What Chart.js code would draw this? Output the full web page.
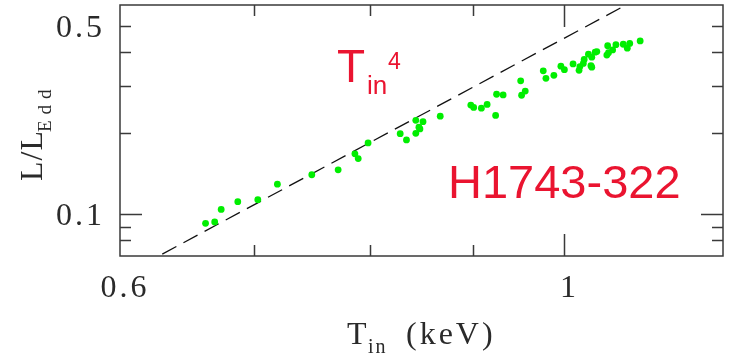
<!DOCTYPE html>
<html>
<head>
<meta charset="utf-8">
<script src="https://cdn.jsdelivr.net/npm/chart.js@4"></script>
<style>
  html, body { margin: 0; padding: 0; background: #fff; }
  #wrap { width: 732px; height: 356px; }
</style>
</head>
<body>
<div id="wrap"><canvas id="chart" width="732" height="356"></canvas></div>
<script>
        // inner disk temperature (keV) and luminosity in Eddington units
        const tIn = [0.662, 0.669, 0.674, 0.687, 0.703, 0.719, 0.748, 0.771, 0.786, 0.789,
                     0.798, 0.828, 0.834, 0.843, 0.850, 0.846, 0.847, 0.843, 0.867, 0.898,
                     0.901, 0.909, 0.915, 0.924, 0.925, 0.932, 0.951, 0.952, 0.956, 0.976,
                     0.979, 0.988, 0.996, 1.000, 1.010, 1.017, 1.018, 1.022, 1.023, 1.028,
                     1.031, 1.032, 1.032, 1.036, 1.038, 1.050, 1.051, 1.052, 1.057, 1.061,
                     1.070, 1.075, 1.078, 1.091];
        const lEdd = [0.0926, 0.0937, 0.1043, 0.1114, 0.1134, 0.1295, 0.1403, 0.1464, 0.1678, 0.1612,
                      0.1843, 0.1995, 0.1891, 0.2235, 0.2210, 0.2109, 0.2077, 0.2000, 0.2316, 0.2548,
                      0.2497, 0.2480, 0.2562, 0.2332, 0.2795, 0.2778, 0.3135, 0.2771, 0.2872, 0.3415,
                      0.3203, 0.3286, 0.3553, 0.3450, 0.3624, 0.3430, 0.3542, 0.3640, 0.3766, 0.3940,
                      0.3570, 0.3524, 0.3838, 0.4005, 0.4026, 0.3907, 0.4233, 0.3990, 0.4083, 0.4273,
                      0.4288, 0.4146, 0.4318, 0.4410];

        // L ~ T^4 reference line, end points
        const modelT = [0.6, 1.2];
        const modelL = [0.0586, 0.937];

        const xMinorTicks = [0.7, 0.8, 0.9];
        const xMajorTicks = [1];
        const yMinorTicks = [0.08, 0.09, 0.2, 0.3, 0.4, 0.5];
        const yMajorTicks = [0.1];
        const xLabelValues = [0.6, 1];
        const xLabelText = ['0.6', '1'];
        const yLabelValues = [0.1, 0.5];
        const yLabelText = ['0.1', '0.5'];

        const RED = '#ea1430';
        const INK = '#2a2a2a';
        const SERIF = '"Liberation Serif"';

        const framePlugin = {
            id: 'frame',
            afterDraw(chart) {
                const { ctx, chartArea: a, scales: { x, y } } = chart;
                ctx.save();

                ctx.strokeStyle = '#3a3a3a';
                ctx.lineWidth = 1.5;
                ctx.strokeRect(a.left, a.top, a.right - a.left, a.bottom - a.top);

                ctx.beginPath();
                const xTicks = (vals, len) => vals.forEach(v => {
                    const px = Math.round(x.getPixelForValue(v)) + 0.5;
                    ctx.moveTo(px, a.bottom); ctx.lineTo(px, a.bottom - len);
                    ctx.moveTo(px, a.top); ctx.lineTo(px, a.top + len);
                });
                const yTicks = (vals, len) => vals.forEach(v => {
                    const py = Math.round(y.getPixelForValue(v)) + 0.5;
                    ctx.moveTo(a.left, py); ctx.lineTo(a.left + len, py);
                    ctx.moveTo(a.right, py); ctx.lineTo(a.right - len, py);
                });
                xTicks(xMinorTicks, 11);
                xTicks(xMajorTicks, 22);
                yTicks(yMinorTicks, 11);
                yTicks(yMajorTicks, 22);
                ctx.stroke();

                // tick labels
                ctx.fillStyle = INK;
                ctx.font = '32px ' + SERIF;
                ctx.letterSpacing = '3px';
                ctx.textBaseline = 'alphabetic';
                ctx.textAlign = 'center';
                xLabelValues.forEach((v, i) => {
                    ctx.fillText(xLabelText[i], x.getPixelForValue(v) + 5, 297);
                });
                ctx.textAlign = 'right';
                yLabelValues.forEach((v, i) => {
                    ctx.fillText(yLabelText[i], 105, y.getPixelForValue(v) + 11);
                });

                // x axis title
                ctx.textAlign = 'left';
                ctx.letterSpacing = '0px';
                ctx.font = '32px ' + SERIF;
                ctx.fillText('T', 347, 344);
                ctx.font = '20px ' + SERIF;
                ctx.letterSpacing = '2px';
                ctx.fillText('in', 368, 353);
                ctx.font = '32px ' + SERIF;
                ctx.letterSpacing = '3px';
                ctx.fillText('(keV)', 406, 344);

                // y axis title, rotated
                ctx.save();
                ctx.translate(42, 181);
                ctx.rotate(-Math.PI / 2);
                ctx.font = '32px ' + SERIF;
                ctx.letterSpacing = '1px';
                ctx.fillText('L/L', 0, 0);
                ctx.font = '19px ' + SERIF;
                ctx.letterSpacing = '6px';
                ctx.fillText('Edd', 49, 9);
                ctx.restore();
                ctx.letterSpacing = '0px';

                // annotations
                ctx.fillStyle = RED;
                ctx.font = '46px "Liberation Sans"';
                ctx.fillText('T', 337, 82);
                ctx.font = '26px "Liberation Sans"';
                ctx.fillText('in', 367, 94);
                ctx.font = '23px "Liberation Sans"';
                ctx.fillText('4', 388, 69);
                ctx.font = '47px "Liberation Sans"';
                ctx.fillText('H1743-322', 448, 198);

                ctx.restore();
            }
        };

        function buildChart() {
            const ctx = document.getElementById('chart').getContext('2d');
            new Chart(ctx, {
                type: 'scatter',
                data: {
                    datasets: [
                        {
                            data: modelT.map((t, i) => ({ x: t, y: modelL[i] })),
                            showLine: true,
                            borderColor: '#111',
                            borderWidth: 1.3,
                            borderDash: [16, 8],
                            pointRadius: 0,
                            order: 2
                        },
                        {
                            data: tIn.map((t, i) => ({ x: t, y: lEdd[i] })),
                            backgroundColor: 'rgb(0, 238, 0)',
                            borderWidth: 0,
                            pointRadius: 3.4,
                            order: 1
                        }
                    ]
                },
                options: {
                    responsive: false,
                    animation: false,
                    devicePixelRatio: 1,
                    layout: { padding: { left: 120, top: 5, right: 9, bottom: 100 } },
                    plugins: { legend: { display: false }, tooltip: { enabled: false } },
                    scales: {
                        x: { type: 'logarithmic', min: 0.6, max: 1.2, display: false },
                        y: { type: 'logarithmic', min: 0.07, max: 0.6, display: false }
                    }
                },
                plugins: [framePlugin]
            });
        }

        document.addEventListener('DOMContentLoaded', buildChart);
</script>
</body>
</html>
